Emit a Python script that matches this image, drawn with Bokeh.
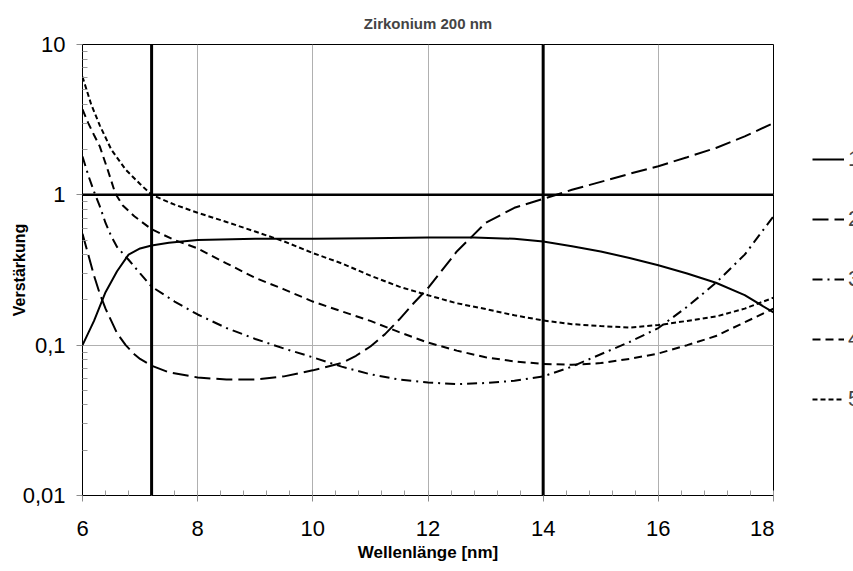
from bokeh.plotting import figure
from bokeh.layouts import row
from bokeh.models import FixedTicker, Span, Legend, LegendItem
from bokeh.embed import file_html
from bokeh.resources import INLINE

# ---- data ----
x1 = [6.0, 6.2, 6.4, 6.6, 6.8, 7.0, 7.2, 7.5, 8.0, 9.0, 10.0, 11.0, 12.0, 12.8, 13.5, 14.0, 14.5, 15.0, 15.5, 16.0, 16.5, 17.0, 17.5, 18.0]
y1 = [0.10, 0.145, 0.225, 0.31, 0.40, 0.44, 0.46, 0.48, 0.50, 0.51, 0.51, 0.515, 0.52, 0.52, 0.51, 0.49, 0.455, 0.42, 0.38, 0.34, 0.30, 0.26, 0.215, 0.165]

x2 = [6.0, 6.1, 6.2, 6.3, 6.4, 6.5, 6.6, 6.75, 6.9, 7.0, 7.2, 7.5, 8.0, 8.5, 9.0, 9.5, 10.0, 10.5, 10.75, 11.0, 11.25, 11.5, 11.75, 12.0, 12.5, 13.0, 13.5, 14.0, 14.5, 15.0, 15.5, 16.0, 16.5, 17.0, 17.5, 18.0]
y2 = [0.55, 0.40, 0.29, 0.22, 0.175, 0.145, 0.12, 0.10, 0.087, 0.081, 0.073, 0.066, 0.061, 0.059, 0.059, 0.062, 0.068, 0.076, 0.085, 0.098, 0.118, 0.148, 0.19, 0.24, 0.42, 0.65, 0.82, 0.94, 1.08, 1.22, 1.38, 1.55, 1.78, 2.05, 2.45, 3.0]

x3 = [6.0, 6.1, 6.2, 6.3, 6.4, 6.5, 6.6, 6.8, 7.0, 7.2, 7.6, 8.0, 8.5, 9.0, 9.5, 10.0, 10.5, 11.0, 11.5, 12.0, 12.5, 13.0, 13.5, 14.0, 14.5, 15.0, 15.5, 16.0, 16.5, 17.0, 17.5, 18.0]
y3 = [1.8, 1.35, 1.05, 0.84, 0.65, 0.53, 0.45, 0.37, 0.30, 0.245, 0.195, 0.16, 0.13, 0.11, 0.095, 0.083, 0.072, 0.064, 0.059, 0.0565, 0.055, 0.056, 0.058, 0.062, 0.072, 0.087, 0.105, 0.13, 0.18, 0.26, 0.40, 0.72]

x4 = [6.0, 6.1, 6.2, 6.3, 6.45, 6.57, 6.7, 6.9, 7.2, 7.6, 8.0, 8.5, 9.0, 9.5, 10.0, 10.5, 11.0, 11.5, 12.0, 12.5, 13.0, 13.5, 14.0, 14.5, 15.0, 15.5, 16.0, 16.5, 17.0, 17.5, 18.0]
y4 = [3.7, 3.0, 2.5, 2.1, 1.42, 1.02, 0.85, 0.72, 0.59, 0.50, 0.44, 0.35, 0.28, 0.235, 0.195, 0.168, 0.145, 0.122, 0.104, 0.092, 0.083, 0.078, 0.075, 0.074, 0.076, 0.081, 0.088, 0.10, 0.115, 0.142, 0.175]

x5 = [6.0, 6.15, 6.3, 6.5, 6.75, 7.0, 7.2, 7.6, 8.0, 8.5, 9.0, 9.5, 10.0, 10.5, 11.0, 11.5, 12.0, 12.5, 13.0, 13.5, 14.0, 14.5, 15.0, 15.5, 16.0, 16.5, 17.0, 17.5, 18.0]
y5 = [6.1, 4.0, 2.9, 2.0, 1.47, 1.18, 1.0, 0.86, 0.76, 0.66, 0.57, 0.49, 0.41, 0.35, 0.29, 0.245, 0.215, 0.19, 0.174, 0.158, 0.146, 0.138, 0.134, 0.131, 0.136, 0.145, 0.155, 0.175, 0.207]

series_names = ["1", "2", "3", "4", "5"]
x_ticks = [6, 8, 10, 12, 14, 16, 18]
x_minor = [6 + 0.4 * i for i in range(31)]
y_ticks = [0.01, 0.1, 1, 10]
y_tick_labels = ["0,01", "0,1", "1", "10"]
y_minor = [m * d for d in (0.01, 0.1, 1) for m in range(2, 10)]
v_lines = [7.2, 14.0]
h_lines = [1.0]

title_text = "Zirkonium 200 nm"
x_label = "Wellenlänge [nm]"
y_label = "Verstärkung"

FONT = "Liberation Sans"
TICK_SIZE = "22px"

p = figure(width=774, height=571, x_range=(6, 18), y_range=(0.01, 10),
           y_axis_type="log", output_backend="svg", toolbar_location=None,
           min_border_left=82, min_border_right=1, min_border_top=43,
           min_border_bottom=76, title=title_text)
p.background_fill_color = "white"
p.border_fill_color = "white"
p.outline_line_color = "black"
p.outline_line_width = 1

p.title.text_font = FONT
p.title.text_font_size = "15px"
p.title.text_font_style = "bold"
p.title.align = "center"
p.title.standoff = 25

# axes
p.xaxis.ticker = FixedTicker(ticks=x_ticks, minor_ticks=x_minor)
p.yaxis.ticker = FixedTicker(ticks=y_ticks, minor_ticks=y_minor)
p.yaxis.major_label_overrides = {t: l for t, l in zip(y_ticks, y_tick_labels)}
for ax in (p.xaxis, p.yaxis):
    ax.axis_line_color = "black"
    ax.axis_line_width = 1
    ax.major_tick_line_color = "#8c8c8c"
    ax.minor_tick_line_color = "#9a9a9a"
    ax.major_tick_out = 6
    ax.major_tick_in = 0
    ax.minor_tick_in = 5
    ax.minor_tick_out = 0
    ax.major_label_text_font = FONT
    ax.major_label_text_font_size = TICK_SIZE
    ax.major_label_text_color = "black"
    ax.axis_label_text_font = FONT
    ax.axis_label_text_font_style = "bold"
    ax.axis_label_text_color = "black"
p.xaxis.axis_label_text_font_size = "17px"
p.yaxis.axis_label_text_font_size = "16px"
p.yaxis.major_label_standoff = 11
p.xaxis.major_label_standoff = 19
p.xaxis.axis_label = x_label
p.yaxis.axis_label = y_label
p.xaxis.axis_label_standoff = 4
p.yaxis.axis_label_standoff = -8

p.xgrid.grid_line_color = "#b0b0b0"
p.ygrid.grid_line_color = "#b0b0b0"
p.xgrid.ticker = FixedTicker(ticks=x_ticks)
p.ygrid.ticker = FixedTicker(ticks=y_ticks)

# reference lines
for xv in v_lines:
    p.add_layout(Span(location=xv, dimension="height", line_color="black", line_width=3))
for yv in h_lines:
    p.add_layout(Span(location=yv, dimension="width", line_color="black", line_width=2.5))

# curves
dashes = ["solid", "16 6", "10 5 2 5", "8 5", "5 3"]
xs = [x1, x2, x3, x4, x5]
ys = [y1, y2, y3, y4, y5]
for xx, yy, d in zip(xs, ys, dashes):
    p.line(xx, yy, line_color="black", line_width=2, line_dash=d)

# legend panel: narrow figure to the right; its data lie outside its range,
# so only the legend swatches show
q = figure(width=79, height=571, x_range=(0, 1), y_range=(0, 1),
           output_backend="svg", toolbar_location=None,
           x_axis_location=None, y_axis_location=None,
           min_border=0)
q.outline_line_color = None
q.grid.visible = False
q.background_fill_color = "white"
q.border_fill_color = "white"
swatches = [q.line(xx, yy, line_color="black", line_width=2, line_dash=d)
            for xx, yy, d in zip(xs, ys, dashes)]
legend = Legend(items=[LegendItem(label=n, renderers=[r]) for n, r in zip(series_names, swatches)],
                location=(38, 83), orientation="vertical",
                glyph_width=32, glyph_height=24, label_height=24, label_standoff=4,
                spacing=34, padding=0, margin=0,
                border_line_alpha=0, background_fill_alpha=0,
                label_text_font=FONT, label_text_font_size=TICK_SIZE)
q.add_layout(legend)

layout = row(p, q, spacing=0)
open("out.html", "w").write(file_html(layout, INLINE))
